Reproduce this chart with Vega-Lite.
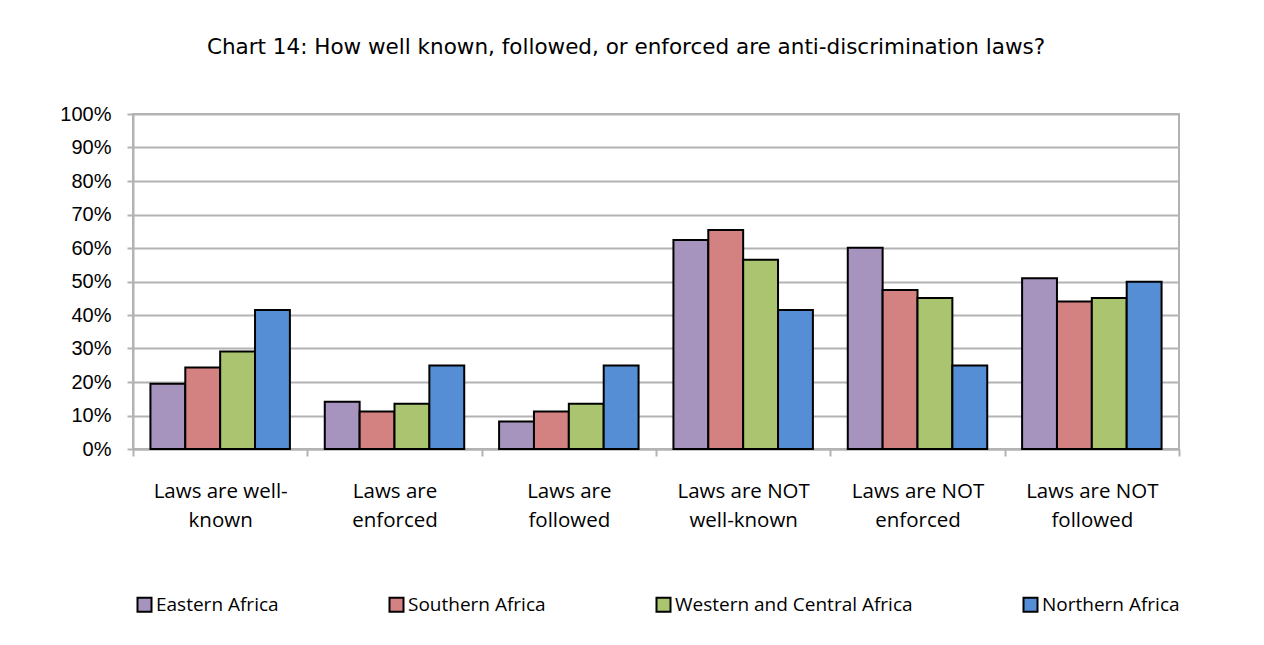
{
  "$schema": "https://vega.github.io/schema/vega-lite/v6.json",
  "autosize": "none",
  "width": 1046,
  "height": 335,
  "padding": {"left": 133, "top": 114, "right": 85, "bottom": 196},
  "background": "white",
  "config": {
    "view": {"stroke": "#b3b3b3", "strokeWidth": 2},
    "font": "Open Sans"
  },
  "title": {
    "text": "Chart 14: How well known, followed, or enforced are anti-discrimination  laws?",
    "font": "DejaVu Sans",
    "fontSize": 21.5,
    "fontWeight": "normal",
    "color": "#000000",
    "anchor": "middle",
    "frame": "group",
    "dx": -30,
    "offset": 46
  },
  "data": {
    "values": [
      {"category": "Laws are well-known", "region": "Eastern Africa", "value": 0.195},
      {"category": "Laws are well-known", "region": "Southern Africa", "value": 0.243},
      {"category": "Laws are well-known", "region": "Western and Central Africa", "value": 0.291},
      {"category": "Laws are well-known", "region": "Northern Africa", "value": 0.415},
      {"category": "Laws are enforced", "region": "Eastern Africa", "value": 0.141},
      {"category": "Laws are enforced", "region": "Southern Africa", "value": 0.112},
      {"category": "Laws are enforced", "region": "Western and Central Africa", "value": 0.135},
      {"category": "Laws are enforced", "region": "Northern Africa", "value": 0.249},
      {"category": "Laws are followed", "region": "Eastern Africa", "value": 0.082},
      {"category": "Laws are followed", "region": "Southern Africa", "value": 0.112},
      {"category": "Laws are followed", "region": "Western and Central Africa", "value": 0.135},
      {"category": "Laws are followed", "region": "Northern Africa", "value": 0.249},
      {"category": "Laws are NOT well-known", "region": "Eastern Africa", "value": 0.624},
      {"category": "Laws are NOT well-known", "region": "Southern Africa", "value": 0.654},
      {"category": "Laws are NOT well-known", "region": "Western and Central Africa", "value": 0.565},
      {"category": "Laws are NOT well-known", "region": "Northern Africa", "value": 0.415},
      {"category": "Laws are NOT enforced", "region": "Eastern Africa", "value": 0.601},
      {"category": "Laws are NOT enforced", "region": "Southern Africa", "value": 0.475},
      {"category": "Laws are NOT enforced", "region": "Western and Central Africa", "value": 0.451},
      {"category": "Laws are NOT enforced", "region": "Northern Africa", "value": 0.249},
      {"category": "Laws are NOT followed", "region": "Eastern Africa", "value": 0.510},
      {"category": "Laws are NOT followed", "region": "Southern Africa", "value": 0.440},
      {"category": "Laws are NOT followed", "region": "Western and Central Africa", "value": 0.451},
      {"category": "Laws are NOT followed", "region": "Northern Africa", "value": 0.499}
    ]
  },
  "mark": {"type": "bar", "stroke": "#000000", "strokeWidth": 2},
  "encoding": {
    "x": {
      "field": "category",
      "type": "nominal",
      "sort": null,
      "scale": {"paddingInner": 0, "paddingOuter": 0},
      "axis": {
        "title": null,
        "labelAngle": 0,
        "labelFont": "Open Sans",
        "labelFontSize": 20.5,
        "labelColor": "#000000",
        "labelLineHeight": 29,
        "labelPadding": 25,
        "labelBaseline": "top",
        "labelExpr": "length(datum.label) < 3 ? '' : (indexof(datum.label, 'NOT') >= 0 ? ['Laws are NOT', substring(datum.label, 13)] : (datum.label == 'Laws are well-known' ? ['Laws are well-', 'known'] : ['Laws are', substring(datum.label, 9)]))",
        "tickBand": "extent",
        "ticks": true,
        "tickSize": 7,
        "tickColor": "#b3b3b3",
        "tickWidth": 2,
        "domainColor": "#b3b3b3",
        "domainWidth": 2,
        "grid": false
      }
    },
    "xOffset": {
      "field": "region",
      "type": "nominal",
      "sort": ["Eastern Africa", "Southern Africa", "Western and Central Africa", "Northern Africa"],
      "scale": {"paddingInner": 0, "paddingOuter": 0.5}
    },
    "y": {
      "field": "value",
      "type": "quantitative",
      "scale": {"domain": [0, 1], "nice": false},
      "axis": {
        "title": null,
        "values": [0, 0.1, 0.2, 0.3, 0.4, 0.5, 0.6, 0.7, 0.8, 0.9, 1],
        "format": ".0%",
        "labelFont": "Liberation Sans",
        "labelFontSize": 20,
        "labelColor": "#000000",
        "labelPadding": 16,
        "tickSize": 6,
        "tickColor": "#b3b3b3",
        "tickWidth": 2,
        "domainColor": "#b3b3b3",
        "domainWidth": 2,
        "gridColor": "#b3b3b3",
        "gridWidth": 2
      }
    },
    "fill": {
      "field": "region",
      "type": "nominal",
      "sort": ["Eastern Africa", "Southern Africa", "Western and Central Africa", "Northern Africa"],
      "scale": {
        "domain": ["Eastern Africa", "Southern Africa", "Western and Central Africa", "Northern Africa"],
        "range": ["#A693BE", "#D48181", "#AAC470", "#558ED5"]
      },
      "legend": {
        "title": null,
        "orient": "none",
        "legendX": 2,
        "legendY": 481,
        "direction": "horizontal",
        "columns": 4,
        "columnPadding": 106,
        "symbolType": "square",
        "symbolSize": 196,
        "symbolStrokeColor": "#000000",
        "symbolStrokeWidth": 2,
        "labelFont": "Open Sans",
        "labelFontSize": 19,
        "labelLimit": 500,
        "labelColor": "#000000",
        "labelOffset": 2
      }
    }
  }
}
